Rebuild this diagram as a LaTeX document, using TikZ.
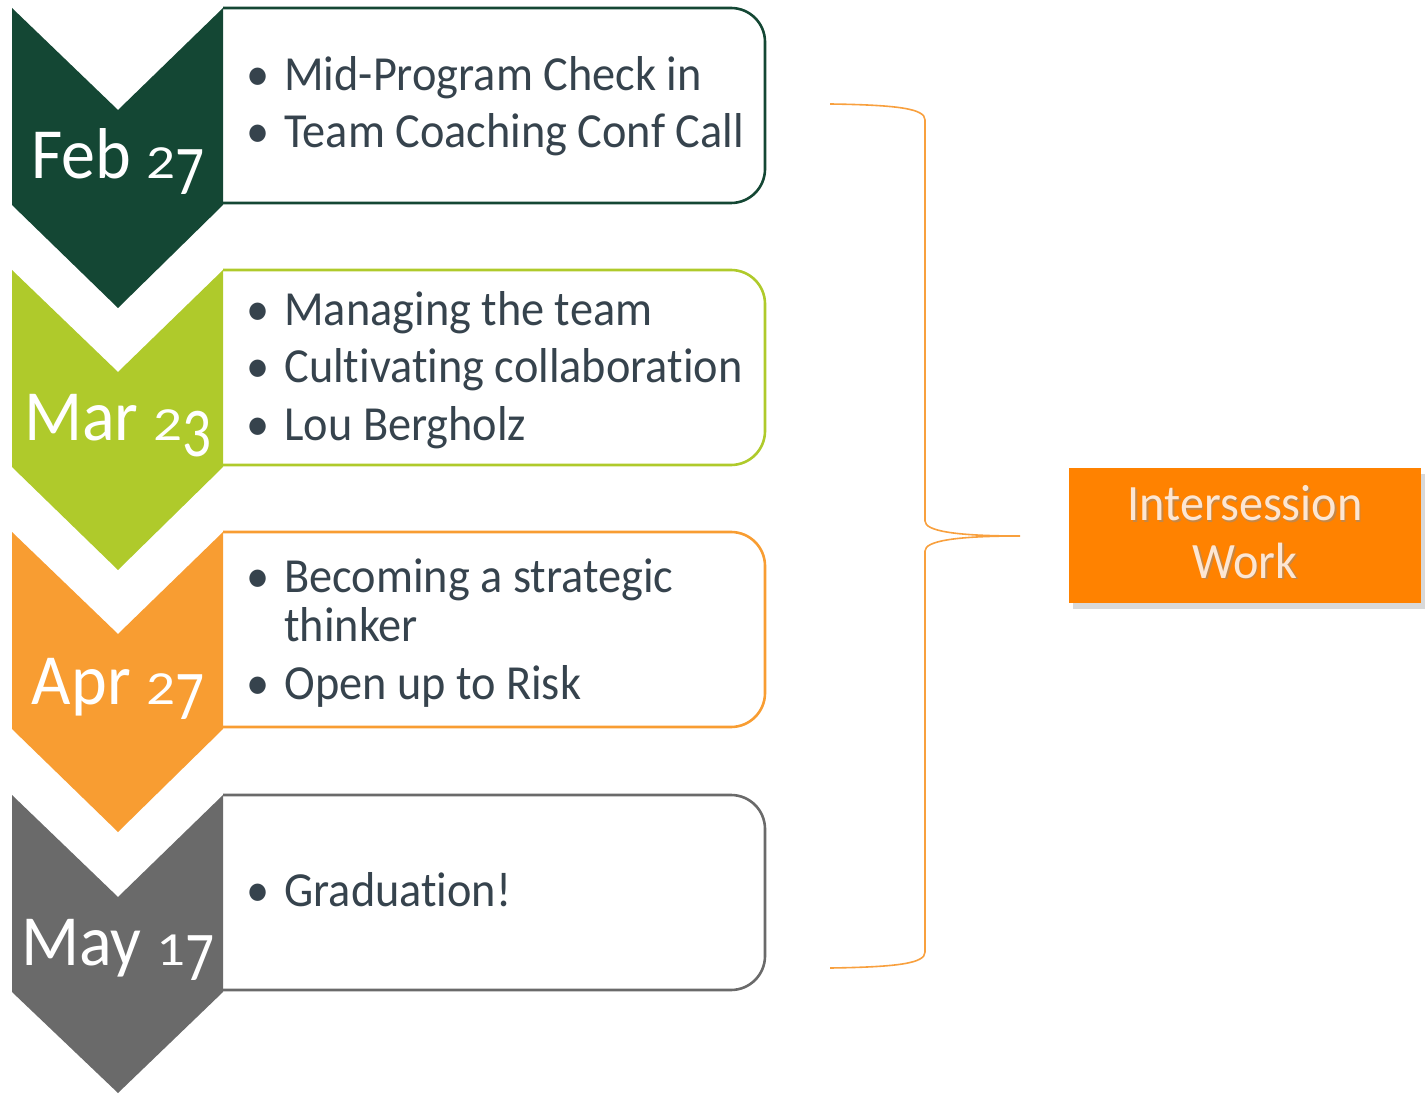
\documentclass[tikz,border=0pt]{standalone}
\usepackage{fontspec}
\setmainfont[Ligatures=NoCommon,FakeStretch=0.945]{Carlito}
\usetikzlibrary{shadows}

\definecolor{febgreen}{RGB}{20,71,52}
\definecolor{marlime}{RGB}{175,202,43}
\definecolor{aprorange}{RGB}{248,157,50}
\definecolor{maygray}{RGB}{106,106,106}
\definecolor{workorange}{RGB}{255,130,0}
\definecolor{braceorange}{RGB}{248,160,62}
\definecolor{slatetext}{RGB}{54,67,77}
\definecolor{peach}{RGB}{253,230,210}

\tikzset{
  datelabel/.style={anchor=base, text=white, font=\fontsize{36}{40}\selectfont, inner sep=0pt},
  item/.style={anchor=base west, text=slatetext, font=\fontsize{24.5}{28}\selectfont, inner sep=0pt},
  worklabel/.style={anchor=base, font=\fontsize{25.5}{30}\selectfont, inner sep=0pt},
  dayframe/.style={draw=#1, line width=1.3pt, rounded corners=17pt},
}
\newcommand{\bul}{\makebox[19pt][l]{\textbullet}}
% old-style figures: short ones sit on the baseline, long ones hang below it
\newcommand{\shortfig}[1]{\scalebox{0.84}[0.66]{#1}}
\newcommand{\longfig}[1]{\raisebox{-0.21em}{\scalebox{0.84}[0.97]{#1}}}

\begin{document}
\begin{tikzpicture}[x=0.5pt,y=-0.5pt]
        \useasboundingbox (0,0) rectangle (1427,1095);
        % Feb 27
        \draw [dayframe=febgreen] (223,8) -- (765,8) -- (765,203) -- (223,203);
        \fill [febgreen] (12,8) -- (118,110) -- (223,8) -- (223,205) -- (118,308) -- (12,205) -- cycle;
        \node [datelabel] (feb) at (118,179) {Feb \shortfig{2}\longfig{7}};
        \node [item] (feb1) at (246,91) {\bul Mid-Program Check in};
        \node [item] (feb2) at (246,148) {\bul Team Coaching Conf Call};
        % Mar 23
        \draw [dayframe=marlime] (223,270) -- (765,270) -- (765,465) -- (223,465);
        \fill [marlime] (12,270) -- (118,372) -- (223,270) -- (223,467) -- (118,570) -- (12,467) -- cycle;
        \node [datelabel] (mar) at (118,441) {Mar \shortfig{2}\longfig{3}};
        \node [item] (mar1) at (246,326) {\bul Managing the team};
        \node [item] (mar2) at (246,383) {\bul Cultivating collaboration};
        \node [item] (mar3) at (246,441) {\bul Lou Bergholz};
        % Apr 27
        \draw [dayframe=aprorange] (223,532) -- (765,532) -- (765,727) -- (223,727);
        \fill [aprorange] (12,532) -- (118,634) -- (223,532) -- (223,729) -- (118,832) -- (12,729) -- cycle;
        \node [datelabel] (apr) at (118,704) {Apr \shortfig{2}\longfig{7}};
        \node [item] (apr1) at (246,592) {\bul Becoming a strategic};
        \node [item] (apr2) at (246,641) {\hspace{19pt}thinker};
        \node [item] (apr3) at (246,699) {\bul Open up to Risk};
        % May 17
        \draw [dayframe=maygray] (223,795) -- (765,795) -- (765,990) -- (223,990);
        \fill [maygray] (12,795) -- (118,897) -- (223,795) -- (223,992) -- (118,1093) -- (12,992) -- cycle;
        \node [datelabel] (may) at (118,965) {May \shortfig{1}\longfig{7}};
        \node [item] (may1) at (246,906) {\bul Graduation!};

        % brace round the four sessions
        \coordinate (btop) at (830,104);
        \coordinate (btip) at (1020,536);
        \coordinate (bbot) at (830,968);
        \draw [braceorange, line width=0.8pt] (btop) .. controls (900,105) and (925,109) .. (925,120)
            -- (925,521) .. controls (925,531) and (955,536) .. (btip)
            .. controls (955,536) and (925,541) .. (925,551)
            -- (925,952) .. controls (925,963) and (900,967) .. (bbot);

        % intersession box
        \node [fill=workorange, minimum width=176pt, minimum height=67.5pt, inner sep=0pt,
               drop shadow={opacity=0.3, shadow xshift=2pt, shadow yshift=-3pt}]
              (work) at (1245,535.5) {};
        \node [worklabel, text=black!45, opacity=0.5] at (1246.5,522.5) {Intersession};
        \node [worklabel, text=black!45, opacity=0.5] at (1246.5,579.5) {Work};
        \node [worklabel, text=peach] (work1) at (1245,521) {Intersession};
        \node [worklabel, text=peach] (work2) at (1245,578) {Work};
\end{tikzpicture}
\end{document}
